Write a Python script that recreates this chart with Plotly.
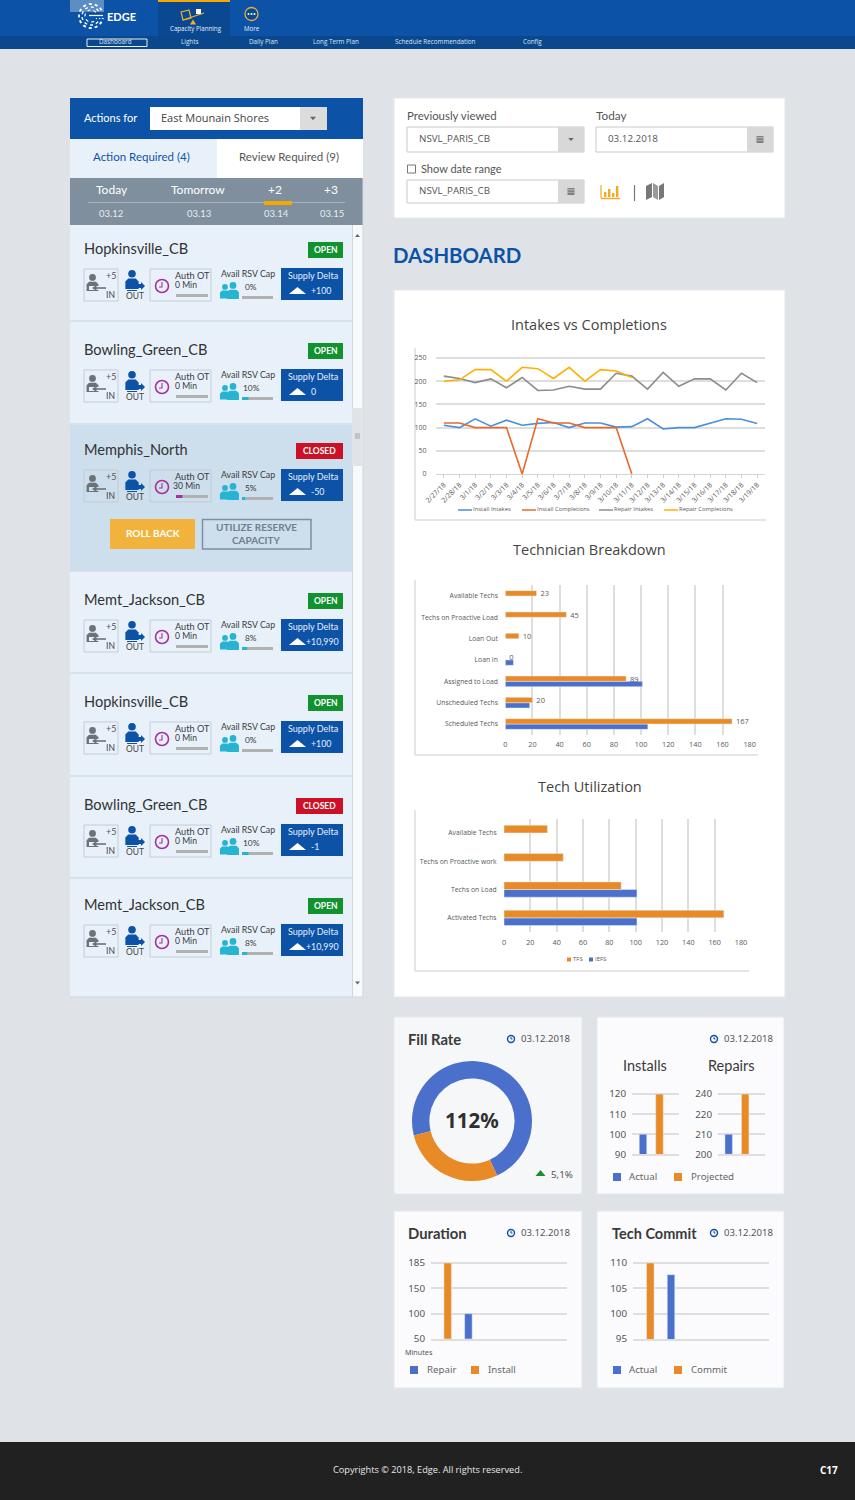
import plotly.graph_objects as go

# ---------- DATA ----------
dates = ["2/27/18","2/28/18","3/1/18","3/2/18","3/3/18","3/4/18","3/5/18","3/6/18","3/7/18","3/8/18","3/9/18",
         "3/10/18","3/11/18","3/12/18","3/13/18","3/14/18","3/15/18","3/16/18","3/17/18","3/18/18","3/19/18"]
install_intakes = [105,100,119,103,116,105,109,111,100,110,110,101,102,119,97,100,100,110,119,118,109]
install_completions = [110,110,100,100,100,0,119,110,110,100,100,100,0]
repair_intakes = [211,206,197,205,186,208,180,181,189,183,183,217,211,183,219,189,205,205,181,217,197]
repair_completions = [200,203,225,225,200,230,227,206,230,200,225,222,208]

breakdown_cats = ["Scheduled Techs","Unscheduled Techs","Assigned to Load","Loan In","Loan Out","Techs on Proactive Load","Available Techs"]
breakdown_tfs = [167,20,89,0,10,45,23]
breakdown_iefs = [105,18,101,6,None,None,None]

util_cats = ["Activated Techs","Techs on Load","Techs on Proactive work","Available Techs"]
util_tfs = [167,89,45,33]
util_iefs = [101,101,None,None]

fill_vals = [72,28]
install_bars = [100,120]
repair_bars = ["210","240"]
repair_ticks = ["200","210","220","240"]
duration_cats = ["Install","Repair"]
duration_bars = ["185","100"]
duration_ticks = ["50","100","150","185"]
commit_cats = ["Commit","Actual"]
commit_bars = [110,107.7]

card_names = ["Hopkinsville_CB","Bowling_Green_CB","Memphis_North","Memt_Jackson_CB","Hopkinsville_CB","Bowling_Green_CB","Memt_Jackson_CB"]
card_status = ["OPEN","OPEN","CLOSED","OPEN","OPEN","CLOSED","OPEN"]
card_ot = [0,0,30,0,0,0,0]
card_rsv = [0,10,5,8,0,10,8]
card_delta = ["+100","0","-50","+10,990","+100","-1","+10,990"]
card_title_y = [249,350,450,600,702,805,905]

day_labels = ["Today","Tomorrow","+2","+3"]
day_dates = ["03.12","03.13","03.14","03.15"]
nav_items = ["Dashboard","Lights","Daily Plan","Long Term Plan","Schedule Recommendation","Config"]

# ---------- COLOURS ----------
PAGE="#dfe3e7"; BLUE="#0c53a8"; NAVD="#0a478c"; ORANGE="#e88a26"; BAR_BLUE="#4a70cc"; GRID="#dedede"
TXT="#3a3a3a"; MUTED="#595959"; CARD="#e8f1fa"

W,H=855,1500
X=lambda x:x/W
Y=lambda y:1-y/H
shapes=[];ann=[]

def rect(x0,y0,x1,y1,fill=None,line=None,lw=1):
    shapes.append(dict(type="rect",xref="paper",yref="paper",x0=X(x0),x1=X(x1),y0=Y(y1),y1=Y(y0),layer="below",
        fillcolor=fill or "rgba(0,0,0,0)",line=dict(color=line or "rgba(0,0,0,0)",width=lw if line else 0)))
def circ(cx,cy,r,fill=None,line=None,lw=1,dash="solid"):
    shapes.append(dict(type="circle",xref="paper",yref="paper",x0=X(cx-r),x1=X(cx+r),y0=Y(cy+r),y1=Y(cy-r),layer="below",
        fillcolor=fill or "rgba(0,0,0,0)",line=dict(color=line or "rgba(0,0,0,0)",width=lw if line else 0,dash=dash)))
def path(pts,fill=None,line=None,lw=1,close=True):
    d="M"+" L".join(f"{X(a):.5f},{Y(b):.5f}" for a,b in pts)+(" Z" if close else "")
    shapes.append(dict(type="path",xref="paper",yref="paper",path=d,layer="below",
        fillcolor=fill or "rgba(0,0,0,0)",line=dict(color=line or "rgba(0,0,0,0)",width=lw if line else 0)))
def seg(x0,y0,x1,y1,c,lw=1):
    path([(x0,y0),(x1,y1)],line=c,lw=lw,close=False)
def text(x,y,s,size=10,color=TXT,anchor="left",font="Lato",bold=False):
    if anchor=="left":
        x-=0.8
    ann.append(dict(xref="paper",yref="paper",x=X(x),y=Y(y-0.7),text=f"<b>{s}</b>" if bold else s,showarrow=False,
        xanchor=anchor,yanchor="middle",borderpad=0,font=dict(family=font,size=size,color=color)))
def tri(cx,cy,w,h,c,up=False):
    s=-1 if up else 1
    path([(cx-w/2,cy-s*h/2),(cx+w/2,cy-s*h/2),(cx,cy+s*h/2)],fill=c)
def calendar(cx,cy,c="#808080"):
    rect(cx-3.5,cy-3,cx+3.5,cy+4,fill=c)
    seg(cx-3.5,cy-1.2,cx+3.5,cy-1.2,"#d8d8d8",0.7)
    seg(cx-3.5,cy+1.4,cx+3.5,cy+1.4,"#d8d8d8",0.5)
def person(cx,top,s,c):
    circ(cx,top+4*s,4*s,fill=c)
    path([(cx-7*s,top+20*s),(cx-7*s,top+12*s),(cx-4*s,top+9*s),(cx+4*s,top+9*s),(cx+7*s,top+12*s),(cx+7*s,top+20*s)],fill=c)
def clock_small(cx,cy):
    circ(cx,cy,3.5,line=BLUE,lw=1.4)
    path([(cx,cy-2),(cx,cy),(cx+1.5,cy)],line=BLUE,lw=1,close=False)

# ---------- HEADER ----------
rect(0,0,W,36,fill=BLUE)
rect(0,36,W,49,fill=NAVD)
rect(158,0,230,36,fill="#0a4891")
rect(158,0,230,2,fill="#f5a800")
rect(70,0,104,12,fill="#5c8dc3")
for r,lw in ((12,1.8),(9,1.4),(6,1.2)):
    circ(91,16,r,line="#ffffff",lw=lw,dash="dot")
rect(92,13,104,18,fill=BLUE)
seg(89,15.5,103,15.5,"#ffffff",1.2)
text(107,17,"EDGE",11,"#ffffff",bold=True)
path([(181,12),(189,10),(191,18),(183,20)],line="#f0b030",lw=1.2)
rect(196,9,201,14,fill="#ffffff")
seg(183,20,204,13,"#f0b030",1.3)
tri(193,22,6,5,"#f0b030",up=True)
text(196,29,"Capacity Planning",6.2,"#e8eef6",anchor="center",font="Open Sans")
circ(251.5,14,6.5,line="#e2b13c",lw=1.3,fill="#0a4891")
for d in (-3,0,3):
    circ(251.5+d,14,1,fill="#ffffff")
text(251.5,29,"More",6.2,"#e8eef6",anchor="center",font="Open Sans")
nav_x=[116,189,263,336,435,532]
for nx,nm in zip(nav_x,nav_items):
    text(nx,42.5,nm,6.3,"#dbe6f3",anchor="center",font="Open Sans")
rect(87,39,147,46.5,line="#e8eef6",lw=1)

# ---------- LEFT PANEL ----------
rect(70,98,363,139,fill=BLUE)
text(84,118,"Actions for",11,"#ffffff",font="Lato")
rect(150,107,327,130,fill="#ffffff")
rect(300,107,327,130,fill="#dcdcdc")
tri(313,118.5,6,3.5,"#666666")
text(161,118.5,"East Mounain Shores",11,"#444444",font="Open Sans")
rect(70,139,217,178,fill=CARD)
rect(217,139,363,178,fill="#ffffff")
text(141,157,"Action Required (4)",11.5,BLUE,anchor="center")
text(289,157,"Review Required (9)",11.5,"#555555",anchor="center")
rect(70,178,363,225,fill="#7f8f9e")
seg(88,202.5,345,202.5,"#a6b2bd",1)
rect(264,201,292,205,fill="#f5a800")
for x0,x1,l,d in zip([112,198,275,331],[111,199,276,332],day_labels,day_dates):
    text(x0,190,l,12,"#ffffff",anchor="center")
    text(x1,214,d,9.5,"#e8ecef",anchor="center")
rect(70,225,352,997,fill=CARD)
rect(352,225,363,997,fill="#f7f9fb")
seg(352.5,225,352.5,997,"#cfd6dd",1)
seg(363,178,363,997,"#cfd6dd",1)
seg(70,997,363,997,"#cfd6dd",1)
tri(357.5,235.5,5,3,"#666666",up=True)
tri(357.5,983,5,3,"#666666")
rect(352,408,362,466,fill="#dfe4e9")
for yy in (434,436,438):
    seg(355,yy,360,yy,"#888888",0.7)
rect(70,425,352,571,fill="#cddeed")
for yy in (321,424,571,673,776,878):
    seg(70,yy,352,yy,"#d3dde7",1.5)

for name,st,ot,rsv,delta,t in zip(card_names,card_status,card_ot,card_rsv,card_delta,card_title_y):
    text(84,t,name,14.6,"#333333")
    if st=="OPEN":
        rect(308,t-7,343,t+9,fill="#12912f")
        text(325.5,t+1.5,st,8.5,"#ffffff",anchor="center",bold=True)
    else:
        rect(296,t-7,343,t+9,fill="#cc1126")
        text(319.5,t+1.5,st,8.5,"#ffffff",anchor="center",bold=True)
    bgc="#cddeed" if name=="Memphis_North" else CARD
    # IN box
    rect(84,t+20,118,t+52,line="#c3ccd4",lw=1)
    person(92.5,t+25,0.85,"#6b7378")
    rect(89,t+37,106,t+41,fill=bgc)
    path([(106,t+39),(96,t+39)],line="#6b7378",lw=1.6,close=False)
    path([(92,t+39),(96.5,t+36),(96.5,t+42)],fill="#6b7378")
    text(111,t+27,"+5",9,"#555555",anchor="center")
    text(111,t+47,"IN",8.5,"#444444",anchor="center")
    # OUT
    person(132,t+21,0.95,BLUE)
    rect(134,t+35,142,t+39,fill=BLUE)
    path([(141,t+33),(145,t+37),(141,t+41)],fill=BLUE)
    seg(127,t+41.5,137,t+41.5,BLUE,1)
    text(134.5,t+48,"OUT",8.5,"#444444",anchor="center")
    # Auth OT
    rect(150,t+20,211,t+52,line="#c3ccd4",lw=1)
    circ(162,t+37,6.5,line="#a7309a",lw=1.6)
    path([(162,t+33),(162,t+38),(159,t+38)],line="#a7309a",lw=1.1,close=False)
    text(192,t+27,"Auth OT",9.2,"#3a3a3a",anchor="center")
    text(175 if ot==0 else 173,t+37,f"{ot} Min",8.6,"#3a3a3a")
    rect(176,t+45,208,t+48,fill="#b1b1b1")
    if ot:
        rect(176,t+45,176+32*0.2,t+48,fill="#a7309a")
    # Avail
    text(248,t+25,"Avail RSV Cap",8.8,"#3a3a3a",anchor="center")
    person(225,t+35,0.72,"#27b4d3")
    person(233,t+33,0.85,"#27b4d3")
    text(251,t+39,f"{rsv}%",8.4,"#3a3a3a",anchor="center")
    rect(242,t+47,273,t+50,fill="#b1b1b1")
    if rsv:
        rect(242,t+47,242+rsv*0.65,t+50,fill="#27b4d3")
    # Supply delta
    rect(281,t+19,343,t+51,fill=BLUE)
    text(313,t+27,"Supply Delta",9,"#e6eef8",anchor="center")
    tri(297.5,t+41.5,17,7,"#ffffff",up=True)
    text(306 if len(delta)>4 else 311,t+42,delta,8.8,"#e6eef8")

rect(110,519,195,549,fill="#f2b33d")
text(152.5,534,"ROLL BACK",10,"#ffffff",anchor="center",bold=True)
rect(202.5,519.5,311,549,line="#7f8f9e",lw=1.5)
text(256.5,528,"UTILIZE RESERVE",10,"#6f7f8d",anchor="center",bold=True)
text(256.5,541,"CAPACITY",10,"#6f7f8d",anchor="center",bold=True)

# ---------- TOP RIGHT PANEL ----------
rect(394,98,785,218,fill="#ffffff",line="#e4e7ea")
text(407,116,"Previously viewed",11.4,"#555555")
text(596,116,"Today",11.8,"#555555")
for x0,x1,gx,y0,y1,lab in ((407,584,558,127,152,"NSVL_PARIS_CB"),(596,773,747,127,152,"03.12.2018"),(407,584,558,180,203,"NSVL_PARIS_CB")):
    rect(x0,y0,x1,y1,fill="#ffffff",line="#c9c9c9",lw=1)
    rect(gx,y0,x1,y1,fill="#d8d8d8")
    text(x0+11.5,(y0+y1)/2,lab,9.8,"#555555",font="Open Sans")
tri(571,139.5,5.5,3,"#666666")
calendar(760,139)
calendar(571,191)
rect(407.5,165,415.5,173,fill="#ffffff",line="#777777",lw=1)
text(421,169,"Show date range",11,"#555555")
seg(601,185,601,198,"#f5a823",1.2); seg(601,198.5,620,198.5,"#f5a823",1.5)
for bx,bt in ((604,192),(608,189),(612,193),(616,186)):
    rect(bx,bt,bx+2.4,197,fill="#f5a823")
seg(634.5,185,634.5,201,"#777777",1.2)
path([(646,186),(652,183),(652,197),(646,200)],fill="#777777")
path([(653,183),(658,186),(658,200),(653,197)],fill="#999999")
path([(659,186),(664,183),(664,197),(659,200)],fill="#777777")
text(393,255.5,"DASHBOARD",20.4,BLUE,bold=True)

# ---------- MAIN PANEL ----------
rect(394,290,785,997,fill="#ffffff",line="#e4e7ea")
text(589,325,"Intakes vs Completions",14.5,"#444444",anchor="center",font="Open Sans")
text(589,550,"Technician Breakdown",14.5,"#444444",anchor="center",font="Open Sans")
text(590,787,"Tech Utilization",14.5,"#444444",anchor="center",font="Open Sans")
seg(415,348,415,520,"#dddddd",1.5); seg(415,520,766,520,"#dddddd",1.5)
seg(415,580,415,755,"#dddddd",1.5); seg(415,755,758,755,"#dddddd",1.5)
seg(415,810,415,971,"#dddddd",1.5); seg(415,971,749,971,"#dddddd",1.5)

LINE_COLS=["#4a90d9","#e8692a","#8c8c8c","#ffb000"]
for (lx,tx,lab),c in zip(((458,473,"Install Intakes"),(522,537,"Install Completions"),(599,614,"Repair Intakes"),(664,679,"Repair Completions")),LINE_COLS):
    seg(lx,510,lx+14,510,c,1.5)
    text(tx,510,lab,5.9,MUTED,font="Open Sans")

rect(567,957.5,571,961.5,fill=ORANGE); text(573,959.5,"TFS",6,MUTED,font="Open Sans")
rect(589,957.5,593,961.5,fill=BAR_BLUE); text(595,959.5,"IEFS",6,MUTED,font="Open Sans")

# ---------- BOTTOM CARDS ----------
rect(394,1017,582,1194,fill="#f6f7f9",line="#e4e7ea")
rect(597,1017,784,1194,fill="#fbfbfd",line="#e4e7ea")
rect(394,1211,582,1388,fill="#fbfbfd",line="#e4e7ea")
rect(597,1211,784,1388,fill="#fbfbfd",line="#e4e7ea")
text(408,1040,"Fill Rate",14.8,"#3a3a3a",bold=True)
text(408,1234,"Duration",14.8,"#3a3a3a",bold=True)
text(612,1234,"Tech Commit",14.5,"#3a3a3a",bold=True)
text(645,1066,"Installs",14.5,"#3a3a3a",anchor="center")
text(731,1066,"Repairs",14.5,"#3a3a3a",anchor="center")
for ix,iy in ((511,1039),(714,1039),(511,1233),(714,1233)):
    clock_small(ix,iy)
    text(ix+10,iy,"03.12.2018",9.6,"#555555",font="Noto Sans")
text(472,1121,"112%",20.5,"#2f2f2f",anchor="center",font="Noto Sans",bold=True)
tri(540.5,1173,10,6,"#12912f",up=True)
text(551,1175,"5,1%",9.8,"#555555",font="Noto Sans")
text(405,1353,"Minutes",7.2,"#555555",font="Noto Sans")
def leg(x1,t1,l1,x2,t2,l2,y):
    rect(x1,y-4,x1+8,y+4,fill=BAR_BLUE); text(t1,y,l1,9.7,"#666666",font="Noto Sans")
    rect(x2,y-4,x2+8,y+4,fill=ORANGE); text(t2,y,l2,9.7,"#666666",font="Noto Sans")
leg(613,629,"Actual",674,691,"Projected",1177)
leg(410,427,"Repair",471,488,"Install",1370)
leg(613,629,"Actual",674,691,"Commit",1370)

# ---------- FOOTER ----------
rect(0,1442,W,1500,fill="#212121")
text(427,1470,"Copyrights © 2018, Edge. All rights reserved.",9.2,"#e8e8e8",anchor="center",font="Open Sans")
text(829,1471,"C17",10,"#ffffff",anchor="center",font="Open Sans",bold=True)

# ---------- CHARTS ----------
fig=go.Figure()
layout={}
def axes(n,x0,x1,y0,y1,xcfg,ycfg):
    suf="" if n==1 else str(n)
    layout["xaxis"+suf]=dict(domain=[X(x0),X(x1)],anchor="y"+suf,automargin=False,**xcfg)
    layout["yaxis"+suf]=dict(domain=[Y(y1),Y(y0)],anchor="x"+suf,automargin=False,**ycfg)
    return "x"+suf,"y"+suf

tf7=dict(family="Open Sans",size=7,color=MUTED)
inv="rgba(0,0,0,0)"
PAD=2  # px of extra room above a top gridline so it is kept
# line chart
xa,ya=axes(1,436,765,358-PAD,474,
    dict(type="category",categoryorder="array",categoryarray=dates,range=[-0.5,20.5],tickangle=-45,tickfont=tf7,
         ticks="outside",ticklen=3,tickcolor="#cccccc",showline=True,linecolor="#d4d4d4",linewidth=1.2,showgrid=False,tickvals=dates),
    dict(range=[0,250+PAD*250/116],tickvals=[0,50,100,150,200,250],tickfont=tf7,showgrid=True,gridcolor=GRID,gridwidth=1.5,
         zeroline=False,ticks="outside",ticklen=7,tickcolor=inv))
for nm,v,c in zip(("Install Intakes","Install Completions","Repair Intakes","Repair Completions"),
                  (install_intakes,install_completions,repair_intakes,repair_completions),LINE_COLS):
    fig.add_trace(go.Scatter(x=dates[:len(v)],y=v,mode="lines",name=nm,line=dict(color=c,width=1.6),xaxis=xa,yaxis=ya,cliponaxis=False))

def hbars(n,x0,x1,y0,y1,cats,tfs,iefs,w,labels):
    xa,ya=axes(n,x0,x1,y0,y1,
        dict(range=[0,180],tickvals=list(range(0,181,20)),tickfont=dict(family="Open Sans",size=7.3,color=MUTED),showgrid=True,
             gridcolor=GRID,gridwidth=1.5,zeroline=False,ticks="outside",ticklen=3,tickcolor=inv),
        dict(type="category",categoryorder="array",categoryarray=cats,range=[-0.5,len(cats)-0.5],tickfont=dict(family="Open Sans",size=6.8,color=MUTED),
             showgrid=False,ticks="outside",ticklen=5,tickcolor=inv,zeroline=False))
    fig.add_trace(go.Bar(y=cats,x=iefs,orientation="h",name="IEFS",marker_color=BAR_BLUE,width=w,offset=-w,xaxis=xa,yaxis=ya))
    extra=dict(text=[f"\u00a0\u00a0{v}" for v in tfs],textposition="outside",constraintext="none",cliponaxis=False,
               textfont=dict(family="Open Sans",size=7.5,color=MUTED)) if labels else {}
    fig.add_trace(go.Bar(y=cats,x=tfs,orientation="h",name="TFS",marker_color=ORANGE,width=w,offset=0,xaxis=xa,yaxis=ya,**extra))
hbars(2,505.3,749.7,585.3,734.7,breakdown_cats,breakdown_tfs,breakdown_iefs,0.25,True)
hbars(3,504,741,818.8,932,util_cats,util_tfs,util_iefs,0.27,False)

# donut
fig.add_trace(go.Pie(values=fill_vals,labels=["Filled","Remaining"],hole=0.71,sort=False,rotation=256,direction="clockwise",
    marker=dict(colors=[BAR_BLUE,ORANGE],line=dict(width=0)),textinfo="none",showlegend=False,
    domain=dict(x=[X(412),X(532)],y=[Y(1181),Y(1061)])))

tf10=dict(family="Noto Sans",size=9.8,color="#555555")
def vbars(n,gx0,gx1,y0,y1,c0,step,cats,vals,cols,yvals=None,yrange=None,ycats=None):
    xcfg=dict(type="category",categoryorder="array",categoryarray=cats,showticklabels=False,ticks="",showgrid=False,
              zeroline=False,showline=True,linecolor=GRID,linewidth=1.5,
              range=[(gx0-c0)/step,(gx1-c0)/step])
    span=y1-y0
    if ycats:
        top=len(ycats)-1
        ycfg=dict(type="category",categoryorder="array",categoryarray=ycats,range=[0,top+PAD*top/span],tickvals=ycats)
    else:
        ycfg=dict(range=[yrange[0],yrange[1]+PAD*(yrange[1]-yrange[0])/span],tickvals=yvals)
    ycfg.update(tickfont=tf10,showgrid=True,gridcolor=GRID,gridwidth=1.5,zeroline=False,ticks="outside",ticklen=3,tickcolor=inv)
    xa,ya=axes(n,gx0,gx1,y0-PAD,y1,xcfg,ycfg)
    fig.add_trace(go.Bar(x=cats,y=vals,marker_color=cols,width=7.5/step,xaxis=xa,yaxis=ya))

vbars(4,632,679,1094,1154.3,643,16.5,["Actual","Projected"],install_bars,[BAR_BLUE,ORANGE],yvals=[90,100,110,120],yrange=[90,120])
vbars(5,718,765,1094,1154.3,728.7,16.5,["Actual","Projected"],repair_bars,[BAR_BLUE,ORANGE],ycats=repair_ticks)
vbars(6,431,567,1263,1339,447.7,20.7,duration_cats,duration_bars,[ORANGE,BAR_BLUE],ycats=duration_ticks)
vbars(7,633,769,1263,1339,650.3,20.7,commit_cats,commit_bars,[ORANGE,BAR_BLUE],yvals=[95,100,105,110],yrange=[95,110])

fig.update_layout(width=W,height=H,margin=dict(l=0,r=0,t=0,b=0),paper_bgcolor=PAGE,plot_bgcolor="rgba(0,0,0,0)",
    showlegend=False,barmode="overlay",shapes=shapes,annotations=ann,font=dict(family="Lato"),**layout)
fig.write_html("out.html",config=dict(displayModeBar=False),
    post_script="document.body.style.margin='0';document.body.style.overflow='hidden';document.body.style.background='#dfe3e7';")
